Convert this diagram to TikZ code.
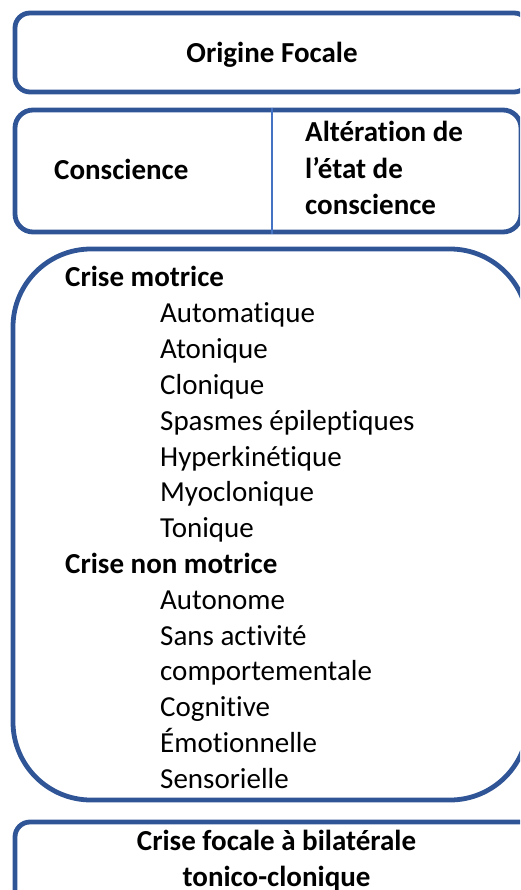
\documentclass[tikz,border=0pt]{standalone}
\usepackage{fontspec}
\setmainfont[Ligatures={NoCommon}]{Carlito}
\definecolor{boxblue}{HTML}{2F5597}
\definecolor{divblue}{HTML}{4472C4}
\begin{document}
\begin{tikzpicture}[x=1pt,y=-1pt,
  frame/.style={draw=boxblue, line width=4.8pt, inner sep=0pt},
  divline/.style={draw=divblue, line width=2.8pt},
  txt/.style={font=\fontsize{29}{36}\selectfont, inner sep=0pt, anchor=base west},
  btxt/.style={txt, font=\fontsize{29}{36}\selectfont\bfseries},
  ctxt/.style={btxt, anchor=base}]
\useasboundingbox (0,0) rectangle (520,890);
\clip (0,0) rectangle (520,890);
% boxes
\node[frame, rounded corners=15pt, minimum width=514pt, minimum height=79pt] (b1) at (272,52.5) {};
\node[frame, rounded corners=18pt, minimum width=506pt, minimum height=122pt] (b2) at (268,171) {};
\node[frame, rounded corners=78pt, minimum width=515pt, minimum height=551pt] (b3) at (270.5,524.5) {};
\node[frame, rounded corners=15pt, minimum width=523pt, minimum height=136pt] (b4) at (276.5,890) {};
\coordinate (dv) at (272,0);
\draw[divline] (b2.north -| dv) -- (b2.south -| dv);
% texts
\node[ctxt] (t1) at (272,63) {Origine Focale};
\node[btxt] (t2) at (54,180) {Conscience};
\node[btxt] (t3) at (305,142) {Altération de};
\node[btxt] (t4) at (305,179) {l’état de};
\node[btxt] (t5) at (305,215) {conscience};
\node[btxt] (h1) at (65,287) {Crise motrice};
\node[txt] (a1) at (160,322.8) {Automatique};
\node[txt] (a2) at (160,358.6) {Atonique};
\node[txt] (a3) at (160,394.4) {Clonique};
\node[txt] (a4) at (160,430.2) {Spasmes épileptiques};
\node[txt] (a5) at (160,466) {Hyperkinétique};
\node[txt] (a6) at (160,501.8) {Myoclonique};
\node[txt] (a7) at (160,537.6) {Tonique};
\node[btxt] (h2) at (65,573.4) {Crise non motrice};
\node[txt] (n1) at (160,609.2) {Autonome};
\node[txt] (n2) at (160,645) {Sans activité};
\node[txt] (n3) at (160,680.8) {comportementale};
\node[txt] (n4) at (160,716.6) {Cognitive};
\node[txt] (n5) at (160,752.4) {Émotionnelle};
\node[txt] (n6) at (160,788.2) {Sensorielle};
\node[ctxt] (f1) at (276.5,850) {Crise focale à bilatérale};
\node[ctxt] (f2) at (276.5,886) {tonico-clonique};
\end{tikzpicture}
\end{document}
